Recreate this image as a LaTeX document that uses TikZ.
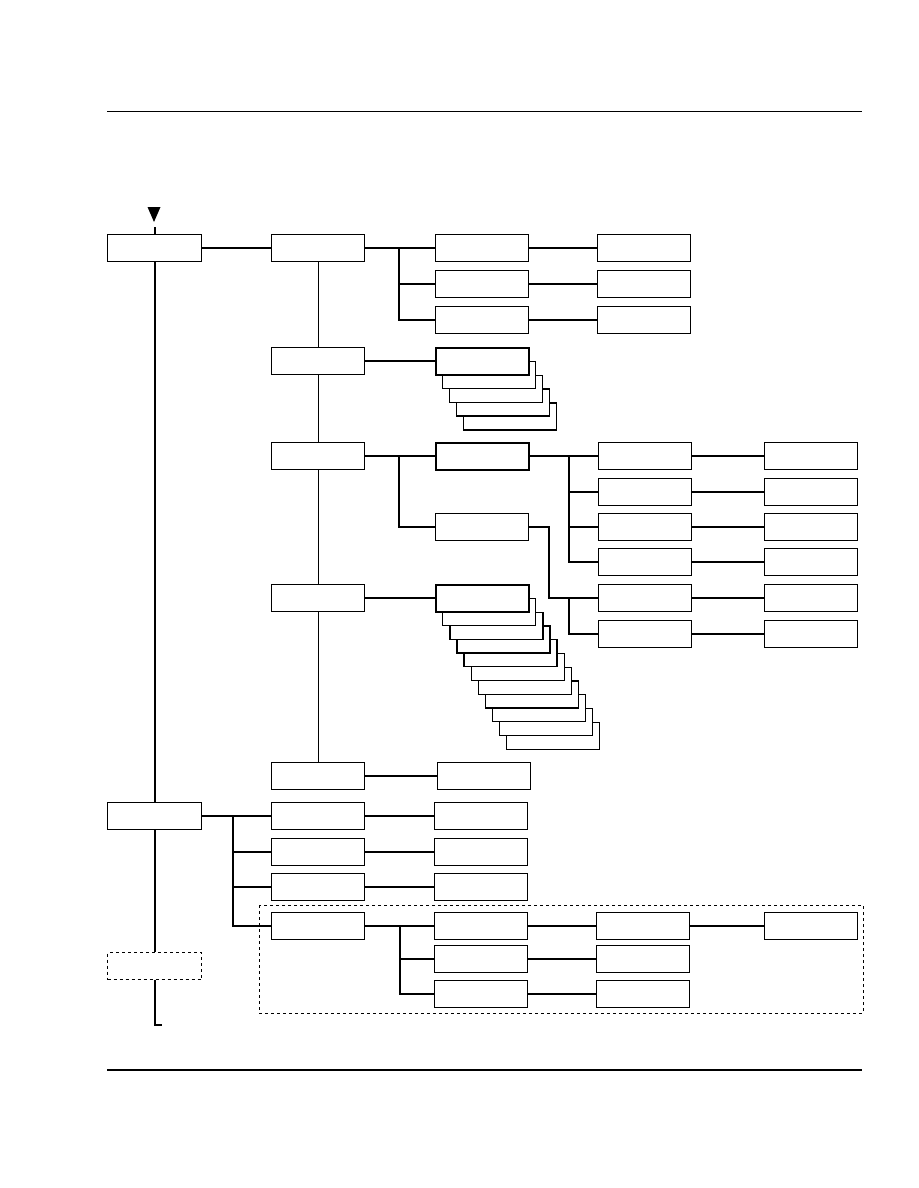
\documentclass[tikz,border=0pt]{standalone}
\usetikzlibrary{calc}
\begin{document}
\begin{tikzpicture}[x=1pt,y=-1pt,
  boxbase/.style={fill=white,minimum width=93pt,minimum height=27pt,inner sep=0pt,anchor=north west},
  bx/.style={boxbase,draw,line width=1.3pt},
  thickbx/.style={boxbase,draw,line width=2.8pt},
  dbx/.style={boxbase,draw,dashed,line width=1pt},
  conn/.style={line width=2.3pt},
  thinconn/.style={line width=1.1pt}]
\useasboundingbox (0,0) rectangle (918,1188);
% rules
\draw[line width=1pt] (107,112) -- (862,112);
\draw[line width=2pt] (107,1070) -- (862,1070);
% dashed region
\draw[dashed,line width=1pt] (259,905) rectangle (863,1013);
% boxes
\node[bx,minimum width=94pt] (A) at (107,234) {};
\node[bx] (B) at (271,234) {};
\node[bx] (C1) at (435,234) {};
\node[bx] (C2) at (435,270) {};
\node[bx] (C3) at (435,306) {};
\node[bx] (D1) at (597,234) {};
\node[bx] (D2) at (597,270) {};
\node[bx] (D3) at (597,306) {};
\node[bx] (B2) at (271,347) {};
\foreach \k in {4,3,2,1}{
  \node[bx] (S\k) at ({435+7*\k},{347+13.8*\k}) {};
}
\node[thickbx] (S0) at (434.5,346.5) {};
\node[bx] (B3) at (271,442) {};
\node[thickbx] (E1) at (434.5,441.5) {};
\node[bx] (E2) at (435,513) {};
\foreach \i/\y in {1/442,2/478,3/513,4/548,5/584,6/620}{
  \node[bx] (F\i) at (598,\y) {};
  \node[bx] (G\i) at (764,\y) {};
}
\node[bx] (B4) at (271,584) {};
\foreach \k in {10,9,...,1}{
  \node[bx] (T\k) at ({435+7.1*\k},{584+13.75*\k}) {};
}
\node[thickbx] (T0) at (434.5,583.5) {};
\node[bx] (B5) at (271,762) {};
\node[bx] (B5r) at (437,762) {};
\node[bx,minimum width=94pt] (H) at (107,802) {};
\node[bx] (I1) at (271,802) {};
\node[bx] (I2) at (271,838) {};
\node[bx] (I3) at (271,873) {};
\node[bx] (I4) at (271,912) {};
\node[bx] (J1) at (434,802) {};
\node[bx] (J2) at (434,838) {};
\node[bx] (J3) at (434,873) {};
\node[bx] (K1) at (434,912) {};
\node[bx] (K2) at (434,945) {};
\node[bx] (K3) at (434,980) {};
\node[bx] (L1) at (596,912) {};
\node[bx] (L2) at (596,945) {};
\node[bx] (L3) at (596,980) {};
\node[bx] (M) at (764,912) {};
\node[dbx,minimum width=94pt] (A3) at (107,952) {};
% arrow into A
\fill (147.5,207) -- (160.5,207) -- (154,222) -- cycle;
\coordinate (atop) at ($(A.north)+(0,-7)$);
% main spine
\draw[conn] (atop) -- (A.north);
\draw[conn] (A.south) -- (A.south |- H.north);
\draw[conn] (H.south) -- (H.south |- A3.north);
\coordinate (spend) at (H.south |- 0,1025);
\coordinate (sptick) at (162,1025);
\draw[conn] (H.south |- A3.south) -- (spend) -- (sptick);
% B chain
\draw[conn] (A.east) -- (B.west);
\draw[thinconn] (B.south) -- (B2.north);
\draw[thinconn] (B2.south) -- (B3.north);
\draw[thinconn] (B3.south) -- (B4.north);
\draw[thinconn] (B4.south) -- (B5.north);
% B -> C
\coordinate (jB) at (399,0);
\draw[conn] (B.east) -- (C1.west);
\draw[conn] (B.east -| jB) |- (C3.west);
\draw[conn] (C2.west -| jB) -- (C2.west);
\foreach \i in {1,2,3}{\draw[conn] (C\i.east) -- (D\i.west);}
% B2 -> stack
\draw[conn] (B2.east) -- (B2.east -| S0.west);
% B3 -> E
\draw[conn] (B3.east) -- (B3.east -| E1.west);
\draw[conn] (B3.east -| jB) |- (E2.west);
\coordinate (jE) at (569,0);
\draw[conn] (F1.west -| E1.east) -- (F1.west);
\draw[conn] (F1.west -| jE) |- (F4.west);
\draw[conn] (F2.west -| jE) -- (F2.west);
\draw[conn] (F3.west -| jE) -- (F3.west);
\coordinate (jE2) at (549,0);
\draw[conn] (E2.east) -| (F5.west -| jE2) -- (F5.west);
\draw[conn] (F5.west -| jE) |- (F6.west);
\foreach \i in {1,...,6}{\draw[conn] (F\i.east) -- (G\i.west);}
% B4 -> stack
\draw[conn] (B4.east) -- (B4.east -| T0.west);
% B5
\draw[conn] (B5.east) -- (B5r.west);
% H -> I
\coordinate (jH) at (233,0);
\draw[conn] (H.east) -- (I1.west);
\draw[conn] (H.east -| jH) |- (I4.west);
\draw[conn] (I2.west -| jH) -- (I2.west);
\draw[conn] (I3.west -| jH) -- (I3.west);
\foreach \i in {1,2,3}{\draw[conn] (I\i.east) -- (J\i.west);}
% I4 -> K
\coordinate (jI) at (400,0);
\draw[conn] (I4.east) -- (K1.west);
\draw[conn] (I4.east -| jI) |- (K3.west);
\draw[conn] (K2.west -| jI) -- (K2.west);
\foreach \i in {1,2,3}{\draw[conn] (K\i.east) -- (L\i.west);}
\draw[conn] (L1.east) -- (M.west);
\end{tikzpicture}
\end{document}
